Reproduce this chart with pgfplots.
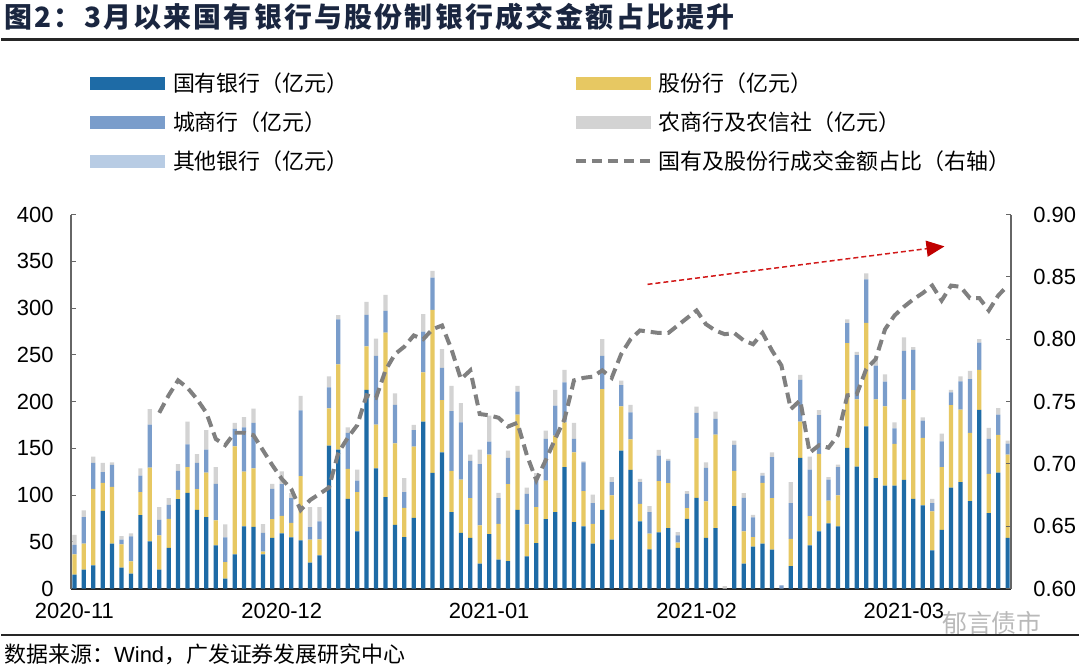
\documentclass[border=0pt]{standalone}
\usepackage{fontspec}
\setmainfont{Liberation Sans}
\newfontfamily\cjk{Noto Sans CJK SC}
\usepackage{pgfplots}
\pgfplotsset{compat=1.18}
\usepackage{pgfplotstable}
\usetikzlibrary{arrows.meta}
\definecolor{cGuo}{RGB}{30,107,166}
\definecolor{cGu}{RGB}{231,200,98}
\definecolor{cCheng}{RGB}{122,157,203}
\definecolor{cNong}{RGB}{211,211,211}
\definecolor{cQi}{RGB}{184,204,228}
\definecolor{cLine}{RGB}{128,128,128}
\definecolor{cTitle}{RGB}{26,38,64}
\definecolor{cArrow}{RGB}{210,25,25}
\definecolor{cArrowHead}{RGB}{192,0,0}

\pgfplotstableread{
i D Y B G O R
0 14.9 21.7 10.3 10.7 0 nan
1 20.3 27.7 28.5 7.1 0 nan
2 24.9 81.8 27.7 6.8 0 nan
3 83.2 29.9 11.4 9.9 0 nan
4 48.0 60.8 23.5 2.8 0 nan
5 22.4 24.9 5.0 3.9 0 nan
6 16.0 13.2 26.6 3.2 0 nan
7 78.6 24.5 17.8 7.8 0 nan
8 50.5 78.9 45.9 16.7 0 nan
9 20.3 36.6 16.7 13.5 0 0.741
10 43.7 31.0 14.9 7.1 0 0.755
11 95.7 9.9 20.3 7.1 0 0.767
12 102.4 27.4 24.5 24.2 0 0.761
13 84.3 22.0 28.1 9.3 0 0.752
14 76.5 47.6 24.5 21.0 0 0.741
15 46.2 26.7 39.1 17.8 0 0.720
16 10.7 17.7 26.4 13.8 0 0.715
17 36.6 115.6 18.5 6.4 0 0.725
18 66.5 58.7 47.3 11.0 0 0.725
19 66.1 62.6 48.4 15.3 0 0.723
20 36.6 2.9 20.2 9.3 0 0.711
21 54.4 19.9 32.4 5.3 0 0.699
22 59.0 18.9 33.8 13.8 0 0.688
23 54.8 15.6 26.3 5.4 0 0.680
24 51.6 68.6 70.4 15.6 0 0.663
25 27.7 24.6 13.5 21.3 0 0.671
26 35.6 17.0 19.2 15.3 0 0.676
27 152.9 39.8 22.4 11.8 0 0.681
28 148.6 91.1 48.3 4.3 0 0.709
29 96.0 32.0 38.4 6.1 0 0.721
30 61.2 41.9 12.5 11.7 0 0.731
31 212.6 46.3 33.8 13.8 0 0.755
32 128.7 46.6 73.6 18.5 0 0.753
33 97.8 176.0 23.1 17.1 0 0.775
34 68.3 87.1 41.2 12.1 0 0.788
35 55.1 31.3 16.7 15.0 0 0.794
36 75.7 76.1 17.8 5.4 0 0.803
37 178.5 52.6 43.8 18.5 0 0.800
38 123.7 174.3 34.5 7.1 0 0.808
39 145.8 55.8 34.5 19.9 0 0.811
40 81.8 44.1 64.0 27.0 0 0.792
41 59.7 56.9 61.2 20.6 0 0.768
42 54.4 42.3 39.8 6.8 0 0.775
43 26.7 40.9 65.4 15.6 0 0.740
44 58.3 85.0 13.9 27.7 0 0.739
45 30.9 38.4 27.4 5.7 0 0.737
46 29.5 82.2 28.1 7.8 0 0.730
47 84.3 101.7 24.5 6.4 0 0.733
48 34.5 34.1 32.7 6.8 0 0.707
49 48.7 38.4 28.5 7.8 0 0.687
50 74.3 41.3 44.4 8.9 0 0.703
51 81.8 81.8 32.0 17.0 0 0.720
52 129.8 48.0 42.7 13.5 0 0.736
53 71.1 74.7 14.2 17.1 0 0.767
54 66.5 37.7 30.9 1.0 0 0.769
55 48.0 21.3 22.1 9.2 0 0.770
56 84.3 129.1 35.5 17.8 0 0.775
57 52.3 47.3 14.2 5.3 0 0.769
58 147.6 47.3 22.7 4.7 0 0.788
59 127.0 32.7 28.8 8.1 0 0.800
60 71.8 18.9 23.1 3.5 0 0.807
61 42.0 16.7 23.1 6.4 0 0.806
62 60.1 54.8 27.3 6.1 0 0.805
63 64.7 48.0 24.2 1.8 0 0.805
64 43.7 5.4 7.8 3.6 0 0.811
65 74.7 11.4 15.2 2.9 0 0.817
66 97.1 63.6 27.1 6.7 0 0.823
67 54.4 38.8 35.9 6.0 0 0.812
68 64.7 99.9 16.8 7.8 0 0.807
69 0 0 0 2.8 0 0.804
70 88.2 37.7 27.7 4.6 0 0.805
71 26.7 34.5 35.9 5.0 0 0.799
72 44.8 10.3 21.0 2.8 0 0.796
73 48.0 65.1 7.8 2.8 0 0.805
74 41.6 55.1 43.8 5.3 0 0.791
75 0 0 3.5 0 0 0.779
76 24.2 29.1 38.1 22.4 0 0.744
77 139.7 38.8 44.8 5.3 0 0.751
78 46.2 31.3 49.8 13.9 0 0.709
79 61.2 82.8 41.6 5.3 0 0.715
80 69.7 24.5 22.4 2.5 0 0.713
81 66.5 33.1 30.2 2.8 0 0.723
82 150.4 112.0 21.4 4.2 0 0.755
83 130.5 71.8 47.3 3.6 0 0.756
84 173.5 110.6 46.6 6.4 0 0.776
85 118.1 84.2 36.0 7.8 0 0.784
86 110.2 84.7 26.3 7.8 0 0.808
87 110.2 44.5 16.7 6.4 0 0.819
88 116.3 85.7 52.3 14.2 0 0.826
89 96.0 116.3 43.0 2.9 0 0.832
90 88.9 72.2 18.5 3.5 0 0.837
91 40.9 41.6 8.9 4.6 0 0.843
92 62.9 66.9 27.7 8.2 0 0.831
93 108.1 88.2 13.5 2.8 0 0.843
94 113.8 77.5 30.2 5.4 0 0.842
95 93.5 72.9 57.6 8.9 0 0.833
96 191.0 43.0 29.1 3.6 0 0.833
97 80.7 42.0 37.3 11.8 0 0.823
98 124.1 40.2 21.7 7.1 0 0.835
99 54.4 88.9 11.7 3.2 0 0.843
}\datatable

\begin{document}
\begin{tikzpicture}
\begin{scope}[x=1pt,y=1pt]
\path[fill=white] (0,0) rectangle (1080,673);
% title
\node[anchor=west, inner sep=0, text=cTitle] at (3,656) {\cjk\bfseries\fontsize{28}{28}\selectfont\addfontfeature{LetterSpace=8}图2：3月以来国有银行与股份制银行成交金额占比提升};
\draw[line width=2.5pt, black!85] (0,633.5) -- (1080,633.5);
% legend
\fill[cGuo] (89,583.2) rectangle (164,596.2);
\fill[cCheng] (89,543.8) rectangle (164,556.8);
\fill[cQi] (89,504.8) rectangle (164,517.8);
\fill[cGu] (576,583.2) rectangle (651,596.2);
\fill[cNong] (576,543.8) rectangle (651,556.8);
\draw[cLine, line width=4pt, dash pattern=on 10pt off 6pt] (576,511.3) -- (653,511.3);
\begin{scope}[every node/.style={anchor=west, inner sep=0, font=\cjk\fontsize{22}{22}\selectfont}]
\node at (172,589.7) {国有银行（亿元）};
\node at (172,550.3) {城商行（亿元）};
\node at (172,511.3) {其他银行（亿元）};
\node at (659,589.7) {股份行（亿元）};
\node at (659,550.3) {农商行及农信社（亿元）};
\node at (659,511.3) {国有及股份行成交金额占比（右轴）};
\end{scope}
% footer
\draw[line width=2pt, black!85] (0,37) -- (1080,37);
\node[anchor=west, inner sep=0] at (3,17) {\cjk\fontsize{22}{22}\selectfont 数据来源：{\normalfont Wind}，广发证券发展研究中心};
\end{scope}
% main axis
\begin{axis}[
  at={(70pt,83pt)}, anchor=south west, scale only axis,
  width=942pt, height=375pt,
  xmin=-0.35, xmax=99.35, ymin=0, ymax=400,
  axis x line*=bottom, axis y line*=left,
  ybar stacked, bar width=0.45,
  ytick={0,50,100,150,200,250,300,350,400},
  xtick={0,22,44,66,88},
  xticklabels={2020-11,2020-12,2021-01,2021-02,2021-03},
  xtick style={draw=none},
  tick align=inside, major tick length=5pt,
  ytick style={black!60, line width=1pt},
  /pgf/number format/assume math mode=true,
  tick label style={font=\fontsize{22}{22}\selectfont},
  yticklabel style={xshift=-14pt},
  xticklabel style={yshift=-11pt},
  x axis line style={-, black!85, line width=1.8pt},
  y axis line style={-, black!60, line width=1.2pt},
  clip=false,
]
\addplot[fill=cGuo, draw=none] table[x=i,y=D] {\datatable};
\addplot[fill=cGu, draw=none] table[x=i,y=Y] {\datatable};
\addplot[fill=cCheng, draw=none] table[x=i,y=B] {\datatable};
\addplot[fill=cNong, draw=none] table[x=i,y=G] {\datatable};
\addplot[fill=cQi, draw=none] table[x=i,y=O] {\datatable};
\draw[cArrow, line width=1.5pt, dash pattern=on 5pt off 3pt, -{Triangle[length=18pt,width=16pt,fill=cArrowHead,color=cArrowHead]}] (axis cs:60.8,325.3) -- (axis cs:92.3,365.9);
\end{axis}
% right axis
\begin{axis}[
  at={(70pt,83pt)}, anchor=south west, scale only axis,
  width=942pt, height=375pt,
  xmin=-0.35, xmax=99.35, ymin=0.6, ymax=0.9,
  axis y line*=right, axis x line=none,
  ytick={0.6,0.65,0.7,0.75,0.8,0.85,0.9},
  tick align=inside, major tick length=5pt,
  ytick style={black!60, line width=1pt},
  /pgf/number format/assume math mode=true,
  tick label style={font=\fontsize{22}{22}\selectfont},
  yticklabel style={/pgf/number format/.cd, fixed, fixed zerofill, precision=2, /tikz/.cd, xshift=19pt},
  y axis line style={-, black!60, line width=1.2pt},
]
\addplot[cLine, line width=4pt, dash pattern=on 11pt off 6pt, unbounded coords=jump, mark=none] table[x=i,y=R] {\datatable};
\end{axis}
\node[text=gray!55, inner sep=0] at (993pt,49pt) {\cjk\fontsize{25}{25}\selectfont 郁言债市};
\end{tikzpicture}
\end{document}
